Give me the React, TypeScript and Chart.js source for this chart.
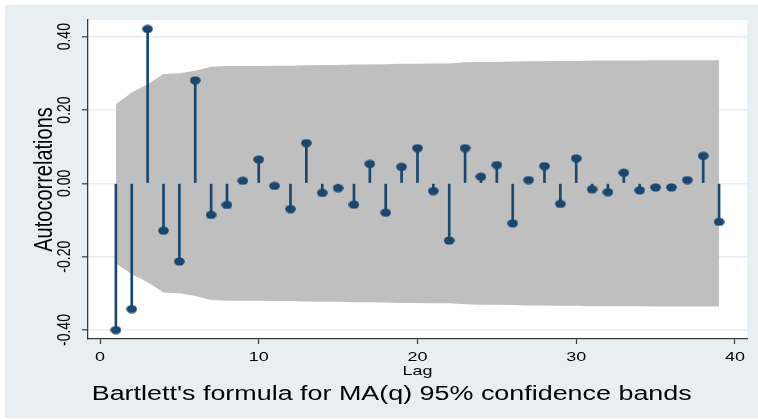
import React, { useEffect, useRef } from 'react';
import { Chart, registerables } from 'chart.js';

Chart.register(...registerables);

// ---- data ----
const lags = [1, 2, 3, 4, 5, 6, 7, 8, 9, 10, 11, 12, 13, 14, 15, 16, 17, 18, 19, 20, 21, 22, 23, 24, 25, 26, 27, 28, 29, 30, 31, 32, 33, 34, 35, 36, 37, 38, 39];
const autocorr = [
  -0.400, -0.343, 0.421, -0.129, -0.213, 0.281, -0.086, -0.059, 0.007, 0.065,
  -0.007, -0.070, 0.110, -0.026, -0.013, -0.058, 0.053, -0.080, 0.045, 0.096,
  -0.021, -0.156, 0.096, 0.018, 0.050, -0.109, 0.009, 0.047, -0.056, 0.068,
  -0.016, -0.024, 0.029, -0.019, -0.011, -0.011, 0.009, 0.075, -0.105,
];
const bandUpper = [
  0.216, 0.248, 0.270, 0.298, 0.300, 0.307, 0.318, 0.320, 0.320, 0.320,
  0.321, 0.321, 0.322, 0.323, 0.323, 0.324, 0.324, 0.325, 0.326, 0.326,
  0.327, 0.327, 0.330, 0.331, 0.331, 0.332, 0.333, 0.333, 0.334, 0.334,
  0.335, 0.335, 0.335, 0.335, 0.336, 0.336, 0.336, 0.336, 0.336,
];
const bandLower = [
  -0.218, -0.248, -0.270, -0.298, -0.300, -0.307, -0.318, -0.320, -0.320, -0.320,
  -0.321, -0.321, -0.322, -0.323, -0.323, -0.324, -0.324, -0.325, -0.326, -0.326,
  -0.327, -0.327, -0.330, -0.331, -0.331, -0.332, -0.333, -0.333, -0.334, -0.334,
  -0.335, -0.335, -0.335, -0.335, -0.336, -0.336, -0.336, -0.336, -0.336,
];
const xTickValues = [0, 10, 20, 30, 40];
const xTickLabels = ['0', '10', '20', '30', '40'];
const yTickValues = [-0.4, -0.2, 0, 0.2, 0.4];
const yTickLabels = ['-0.40', '-0.20', '0.00', '0.20', '0.40'];
const yTitle = 'Autocorrelations';
const xTitle = 'Lag';
const caption = "Bartlett's formula for MA(q) 95% confidence bands";

const NAVY = '#1A476F';
const BAND = '#BFBFBF';
const OUTER_BG = '#E8EFF2';
const GRID = '#E6EEF1';
const AXIS = '#3a3a3a';
const FONT = '"Liberation Sans", Arial, Helvetica, sans-serif';
const SX = 1.33;

function drawH(ctx: CanvasRenderingContext2D, text: string, cx: number, by: number, size: number, sx: number) {
  ctx.save();
  ctx.font = `${size}px ${FONT}`;
  ctx.fillStyle = '#000';
  ctx.textAlign = 'center';
  ctx.textBaseline = 'alphabetic';
  ctx.translate(cx, by);
  ctx.scale(sx, 1);
  ctx.fillText(text, 0, 0);
  ctx.restore();
}

function drawV(ctx: CanvasRenderingContext2D, text: string, bx: number, cy: number, size: number, sx: number) {
  ctx.save();
  ctx.font = `${size}px ${FONT}`;
  ctx.fillStyle = '#000';
  ctx.textAlign = 'center';
  ctx.textBaseline = 'alphabetic';
  ctx.translate(bx, cy);
  ctx.scale(sx, 1);
  ctx.rotate(-Math.PI / 2);
  ctx.fillText(text, 0, 0);
  ctx.restore();
}

const bgPlugin = {
  id: 'stataBg',
  beforeDraw(chart: any) {
    const ctx = chart.ctx as CanvasRenderingContext2D;
    const { chartArea } = chart;
    ctx.save();
    ctx.fillStyle = '#ffffff';
    ctx.fillRect(0, 0, chart.width, chart.height);
    ctx.fillStyle = OUTER_BG;
    ctx.fillRect(5, 5, chart.width - 5, chart.height - 6);
    ctx.fillStyle = '#ffffff';
    ctx.fillRect(chartArea.left, chartArea.top, chartArea.right - chartArea.left, chartArea.bottom - chartArea.top);
    ctx.restore();
  },
};

const textPlugin = {
  id: 'stataText',
  afterDraw(chart: any) {
    const ctx = chart.ctx as CanvasRenderingContext2D;
    const xs = chart.scales.x;
    const ys = chart.scales.y;
    const { chartArea } = chart;
    xTickValues.forEach((v, i) => {
      drawH(ctx, xTickLabels[i], xs.getPixelForValue(v), 361, 13.5, SX);
    });
    yTickValues.forEach((v, i) => {
      drawV(ctx, yTickLabels[i], 70, ys.getPixelForValue(v), 14, 1.3);
    });
    drawV(ctx, yTitle, 52, (chartArea.top + chartArea.bottom) / 2, 20, SX);
    drawH(ctx, xTitle, (chartArea.left + chartArea.right) / 2, 375, 13.5, SX);
    ctx.save();
    ctx.font = `20px ${FONT}`;
    const w = ctx.measureText(caption).width;
    ctx.restore();
    drawH(ctx, caption, 391.7, 399.5, 20, 600 / w);
  },
};

export default function App() {
  const ref = useRef<HTMLCanvasElement | null>(null);

  useEffect(() => {
    if (!ref.current) return;
    const dot = document.createElement('canvas');
    dot.width = 11;
    dot.height = 9;
    const dctx = dot.getContext('2d')!;
    dctx.fillStyle = NAVY;
    dctx.beginPath();
    dctx.ellipse(5.5, 4.5, 5.3, 4.1, 0, 0, Math.PI * 2);
    dctx.fill();

    const chart = new Chart(ref.current, {
      type: 'scatter',
      data: {
        datasets: [
          {
            type: 'scatter',
            label: 'acf',
            data: lags.map((l, i) => ({ x: l, y: autocorr[i] })),
            pointStyle: dot as any,
            pointRadius: 5,
            order: 0,
          } as any,
          {
            type: 'bar',
            label: 'stems',
            data: lags.map((l, i) => ({ x: l, y: autocorr[i] })),
            backgroundColor: NAVY,
            borderWidth: 0,
            barThickness: 2,
            grouped: false,
            order: 1,
          } as any,
          {
            type: 'line',
            label: 'upper',
            data: lags.map((l, i) => ({ x: l, y: bandUpper[i] })),
            borderColor: 'rgba(0,0,0,0)',
            borderWidth: 0,
            pointRadius: 0,
            tension: 0,
            fill: false,
            order: 3,
          } as any,
          {
            type: 'line',
            label: 'lower',
            data: lags.map((l, i) => ({ x: l, y: bandLower[i] })),
            borderColor: 'rgba(0,0,0,0)',
            borderWidth: 0,
            pointRadius: 0,
            tension: 0,
            fill: '-1',
            backgroundColor: BAND,
            order: 2,
          } as any,
        ],
      },
      options: {
        animation: false,
        responsive: false,
        devicePixelRatio: 1,
        events: [],
        layout: { padding: { left: 0, top: 20, right: 11, bottom: 0 } },
        plugins: {
          legend: { display: false },
          tooltip: { enabled: false },
        },
        scales: {
          x: {
            type: 'linear',
            min: -0.756,
            max: 40.76,
            offset: false,
            afterBuildTicks: (s: any) => {
              s.ticks = xTickValues.map((v) => ({ value: v }));
            },
            afterFit: (s: any) => {
              s.height = 80;
            },
            ticks: { display: false },
            grid: {
              offset: false,
              drawOnChartArea: false,
              drawTicks: true,
              tickLength: 5,
              tickColor: AXIS,
              tickWidth: 1.2,
            },
            border: { display: true, color: AXIS, width: 1.3 },
          },
          y: {
            type: 'linear',
            min: -0.4245,
            max: 0.4455,
            afterBuildTicks: (s: any) => {
              s.ticks = yTickValues.map((v) => ({ value: v }));
            },
            afterFit: (s: any) => {
              s.width = 88;
            },
            ticks: { display: false },
            grid: {
              offset: false,
              color: GRID,
              lineWidth: 1.6,
              drawTicks: true,
              tickLength: 6,
              tickColor: AXIS,
              tickWidth: 1.2,
            },
            border: { display: true, color: AXIS, width: 1.3 },
          },
        },
      } as any,
      plugins: [bgPlugin, textPlugin],
    });
    return () => chart.destroy();
  }, []);

  return (
    <div style={{ position: 'fixed', left: 0, top: 0, width: 758, height: 419 }}>
      <canvas ref={ref} width={758} height={419} style={{ display: 'block', width: 758, height: 419 }} />
    </div>
  );
}
